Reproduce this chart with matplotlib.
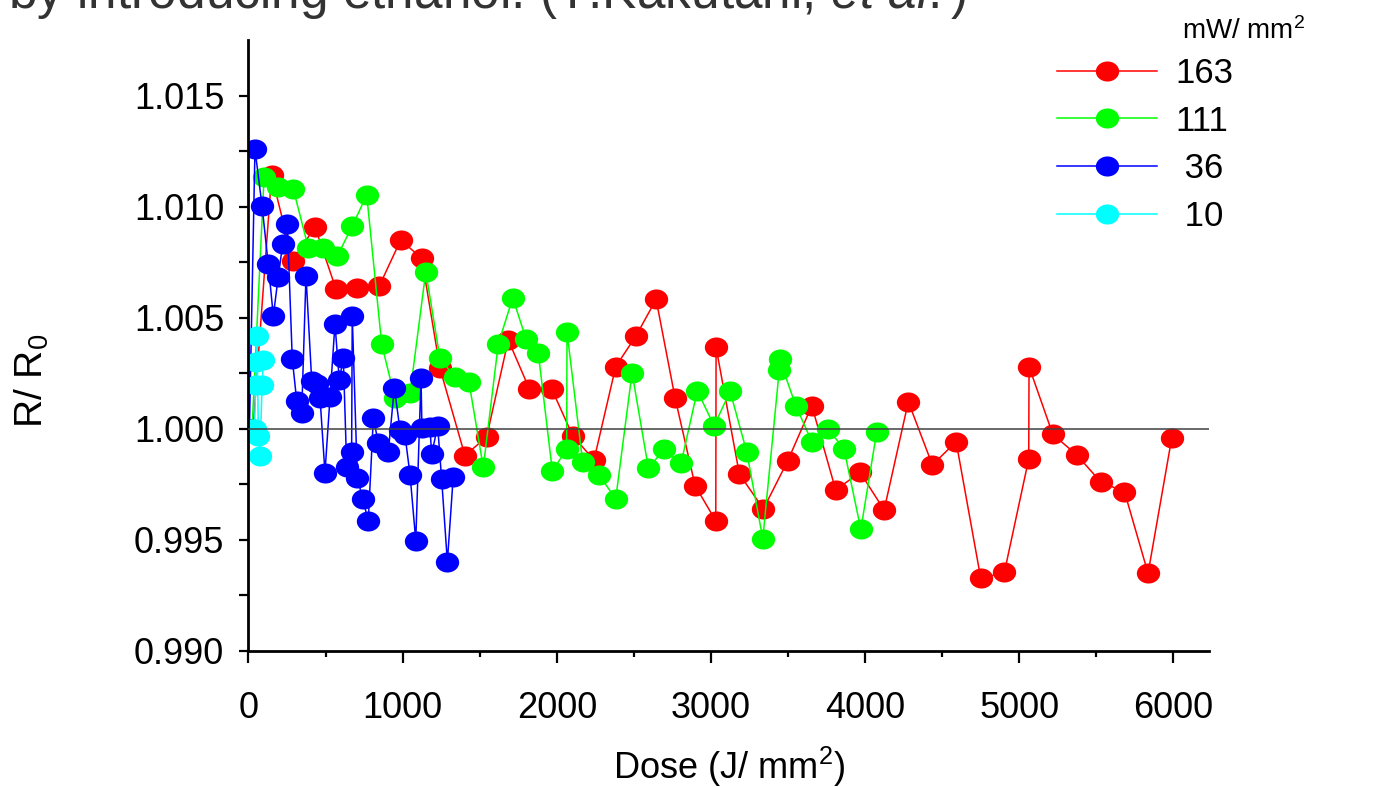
import numpy as np
import matplotlib
matplotlib.use("Agg")
import matplotlib.pyplot as plt
from matplotlib.path import Path
from matplotlib.transforms import Affine2D
from matplotlib.lines import Line2D

plt.rcParams['font.family'] = ['Liberation Sans', 'DejaVu Sans']
plt.rcParams['mathtext.fontset'] = 'custom'
plt.rcParams['mathtext.rm'] = 'Liberation Sans'
plt.rcParams['mathtext.it'] = 'Liberation Sans:italic'
plt.rcParams['mathtext.default'] = 'regular'

# R/R0 versus dose for four power densities (mW/mm^2)
red_dose = [29, 150, 287, 431, 568, 702, 849, 987, 1124, 1242, 1404, 1545, 1685, 1822, 1967,
            2103, 2241, 2382, 2514, 2644, 2767, 2897, 3031, 3033, 3184, 3340, 3498, 3654, 3809,
            3967, 4123, 4280, 4436, 4590, 4750, 4903, 5061, 5063, 5217, 5373, 5530, 5682, 5835, 5989]
red_r = [1.0000, 1.01144, 1.00757, 1.00911, 1.00629, 1.00634, 1.00645, 1.00851, 1.00769, 1.00273,
         0.99880, 0.99965, 1.00401, 1.00180, 1.00180, 0.99970, 0.99860, 1.00281, 1.00420, 1.00584,
         1.00140, 0.99745, 0.99586, 1.00368, 0.99797, 0.99640, 0.99857, 1.00105, 0.99725, 0.99805,
         0.99635, 1.00123, 0.99838, 0.99943, 0.99327, 0.99354, 0.99865, 1.00281, 0.99976, 0.99883,
         0.99760, 0.99718, 0.99350, 0.99961]

green_dose = [23, 101, 193, 291, 388, 485, 576, 673, 767, 864, 950, 1048, 1150, 1242, 1340, 1430,
              1523, 1620, 1714, 1800, 1880, 1971, 2064, 2066, 2168, 2274, 2382, 2488, 2594, 2697,
              2806, 2911, 3020, 3124, 3232, 3336, 3443, 3445, 3550, 3654, 3761, 3863, 3972, 4075]
green_r = [1.0000, 1.01134, 1.01091, 1.01080, 1.00817, 1.00817, 1.00779, 1.00914, 1.01054, 1.00382,
           1.00138, 1.00161, 1.00709, 1.00318, 1.00233, 1.00212, 0.99827, 1.00382, 1.00591, 1.00407,
           1.00341, 0.99811, 0.99909, 1.00437, 0.99850, 0.99793, 0.99685, 1.00254, 0.99823, 0.99910,
           0.99845, 1.00173, 1.00014, 1.00170, 0.99896, 0.99506, 1.00266, 1.00314, 1.00105, 0.99943,
           0.99999, 0.99910, 0.99548, 0.99988]

blue_dose = [6, 42, 88, 128, 161, 193, 222, 252, 284, 313, 345, 373, 410, 444, 464, 496, 529, 561,
             589, 615, 637, 669, 673, 706, 741, 777, 810, 842, 907, 946, 983, 1015, 1048, 1085,
             1119, 1125, 1177, 1188, 1227, 1253, 1290, 1328]
blue_r = [1.0000, 1.01260, 1.01005, 1.00743, 1.00509, 1.00686, 1.00833, 1.00923, 1.00315, 1.00126,
          1.00072, 1.00691, 1.00218, 1.00203, 1.00140, 0.99803, 1.00144, 1.00473, 1.00221, 1.00320,
          0.99830, 0.99898, 1.00509, 0.99781, 0.99685, 0.99586, 1.00051, 0.99937, 0.99898, 1.00186,
          0.99995, 0.99973, 0.99793, 0.99497, 1.00228, 1.00005, 1.00010, 0.99886, 1.00014, 0.99773,
          0.99402, 0.99785]

cyan_dose = [10, 40, 46, 50, 56, 64, 75, 88, 97]
cyan_r = [1.0000, 1.0000, 1.0020, 1.0030, 1.0042, 0.9997, 0.9988, 1.0020, 1.0031]

labels = ['163', '111', ' 36', ' 10']
colors = ['#ff0000', '#00ff00', '#0000ff', '#00ffff']

# slightly flattened round marker
ell = Path(Affine2D().scale(1.0, 0.86).transform(Path.unit_circle().vertices),
           Path.unit_circle().codes)

fig = plt.figure(figsize=(13.77, 7.87), dpi=100)
ax = fig.add_axes([0.18046, 0.17281, 0.6975, 0.77573])

series = [(red_dose, red_r), (green_dose, green_r), (blue_dose, blue_r), (cyan_dose, cyan_r)]
handles = []
for (d, r), c, lab in zip(series, colors, labels):
    ax.plot(d, r, color=c, lw=1.1, marker=ell, ms=16.8, mfc=c, mec=c, mew=0)
    handles.append(Line2D([], [], color=c, lw=1.1, marker=ell, ms=16.8, mfc=c, mec=c, mew=0))

ax.axhline(1.0, color='#404040', lw=1.1, zorder=5)

ax.set_xlim(0, 6230)
ax.set_ylim(0.990, 1.0175)
ax.set_xticks(np.arange(0, 6001, 1000))
ax.set_xticks(np.arange(500, 6001, 1000), minor=True)
ax.set_yticks(np.arange(0.990, 1.0151, 0.005))
ax.set_yticks(np.arange(0.9925, 1.0151, 0.005), minor=True)
ax.set_yticklabels(['%.3f' % v for v in np.arange(0.990, 1.0151, 0.005)])

for s in ['top', 'right']:
    ax.spines[s].set_visible(False)
for s in ['left', 'bottom']:
    ax.spines[s].set_linewidth(2.0)

ax.tick_params(axis='both', which='both', direction='out', width=1.6, labelsize=26)
ax.tick_params(axis='y', which='both', length=6.5, pad=11)
ax.tick_params(axis='x', which='major', length=8.5, pad=20)
ax.tick_params(axis='x', which='minor', length=4.5)

ax.set_xlabel(r'Dose (J/ mm$^2$)', fontsize=26, labelpad=14)
ax.set_ylabel(r'R/ R$_0$', fontsize=28)
ax.yaxis.set_label_coords(-0.206, 0.442)

leg = ax.legend(handles, labels, loc='upper left', bbox_to_anchor=(1057 / 1377, 1 - 57 / 787),
                bbox_transform=fig.transFigure, frameon=False, fontsize=25,
                handlelength=2.88, handletextpad=0.52, labelspacing=0.42,
                borderpad=0, borderaxespad=0, numpoints=1)

fig.text(1182 / 1377, 1 - 31 / 787, r'mW/ mm$^2$', fontsize=20, va='center', ha='left')

fig.text(0.006, 1 - 8 / 787, r'by introducing ethanol. (T.Kakutani, $\mathit{et\ al.}$)',
         fontsize=37, color='#333333', va='baseline', ha='left')

fig.savefig('out.png', dpi=100)
